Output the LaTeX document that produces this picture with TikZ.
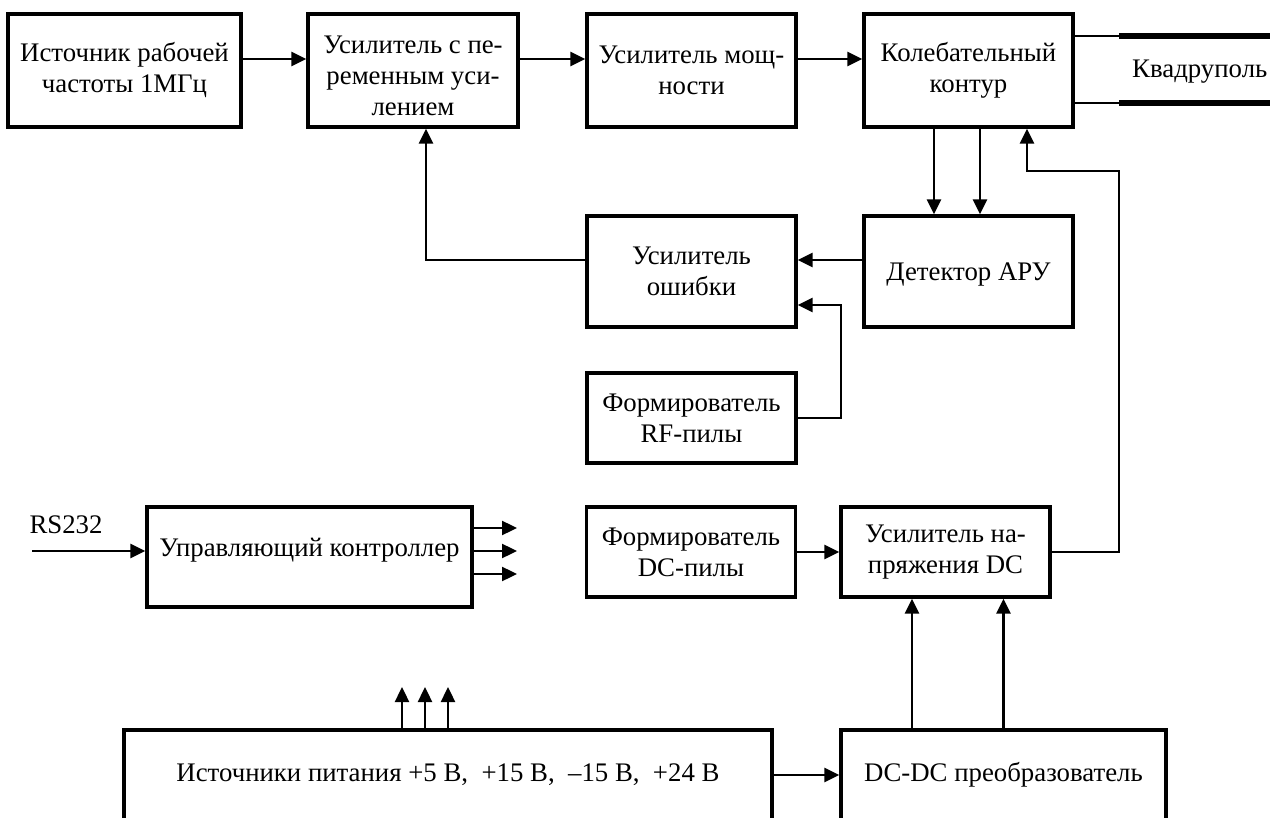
\documentclass[tikz,border=0pt]{standalone}
\usepackage{fontspec}
\setmainfont{Liberation Serif}
\usetikzlibrary{arrows.meta}
\begin{document}
\begin{tikzpicture}[x=1pt,y=-1pt,
  box/.style={draw,line width=3.3pt,rectangle,align=center,inner sep=0pt,font=\fontsize{26.8}{31}\selectfont},
  conn/.style={line width=2.4pt},
  arr/.style={conn,-{Triangle[length=15pt,width=14pt]}},
  lbl/.style={font=\fontsize{26.8}{31}\selectfont,inner sep=0pt,align=center}]
\useasboundingbox (0,0) rectangle (1270,818);
\clip (0,0) rectangle (1270,818);
% top row
\node[box,minimum width=233pt,minimum height=113pt] (b1) at (124.5,70.5) {Источник рабочей\\частоты 1МГц};
\node[box,minimum width=210pt,minimum height=113pt,
  label={[lbl,yshift=-5pt]center:Усилитель с пе-\\ременным уси-\\лением}] (b2) at (413,70.5) {};
\node[box,minimum width=209pt,minimum height=113pt] (b3) at (691.5,70.5) {Усилитель мощ-\\ности};
\node[box,minimum width=209pt,minimum height=113pt] (b4) at (968.5,70.5) {Колебательный\\контур};
\node[lbl,anchor=west] (quad) at (1132,72) {Квадруполь};
% middle
\node[box,minimum width=209pt,minimum height=111pt] (err) at (691.5,271.5) {Усилитель\\ошибки};
\node[box,minimum width=209pt,minimum height=111pt,
  label={[lbl,yshift=-3pt]center:Детектор АРУ}] (det) at (968.5,271.5) {};
\node[box,minimum width=209pt,minimum height=90pt] (rf) at (691.5,418) {Формирователь\\RF-пилы};
\node[box,minimum width=209pt,minimum height=90pt] (dcs) at (691,552) {Формирователь\\DC-пилы};
\node[box,minimum width=209pt,minimum height=90pt] (udc) at (945.5,552) {Усилитель на-\\пряжения DC};
\node[box,minimum width=325pt,minimum height=100pt,
  label={[lbl,yshift=7pt]center:Управляющий контроллер}] (ctl) at (309.5,557) {};
\node[lbl] (rs) at (66,525) {RS232};
% bottom
\node[box,minimum width=648pt,minimum height=90pt] (pw) at (448,775) {Источники питания +5 В,\ \ +15 В,\ \ –15 В,\ \ +24 В};
\node[box,minimum width=325pt,minimum height=90pt] (dcdc) at (1003.5,775) {DC-DC преобразователь};
% coordinates
\coordinate (q1) at (1119,36);
\coordinate (q1e) at (1285,36);
\coordinate (q2) at (1119,103);
\coordinate (q2e) at (1285,103);
\coordinate (fb) at (1119,171);
\coordinate (rfc) at (841,305);
\coordinate (pu1) at (402,687);
\coordinate (pu2) at (425,687);
\coordinate (pu3) at (448,687);
\coordinate (co1) at (517,528);
\coordinate (co2) at (517,551);
\coordinate (co3) at (517,574);
\coordinate (rsin) at (32,551);
% connectors
\draw[arr] ([yshift=11.5pt]b1.east) -- ([yshift=11.5pt]b2.west);
\draw[arr] ([yshift=11.5pt]b2.east) -- ([yshift=11.5pt]b3.west);
\draw[arr] ([yshift=11.5pt]b3.east) -- ([yshift=11.5pt]b4.west);
\draw[conn] (b4.east |- q1) -- (q1);
\draw[conn] (b4.east |- q2) -- (q2);
\draw[line width=5.5pt] (q1) -- (q1e);
\draw[line width=5.5pt] (q2) -- (q2e);
\draw[arr] ([xshift=-34.5pt]b4.south) -- ([xshift=-34.5pt]det.north);
\draw[arr] ([xshift=11.5pt]b4.south) -- ([xshift=11.5pt]det.north);
\draw[arr] (udc.east) -| (fb) -| ([xshift=58.5pt]b4.south);
\draw[arr] ([yshift=11.5pt]det.west) -- ([yshift=11.5pt]err.east);
\draw[arr] (rf.east) -| (rfc) -- ([yshift=-33.5pt]err.east);
\draw[arr] ([yshift=11.5pt]err.west) -| ([xshift=13pt]b2.south);
\draw[arr] (dcs.east) -- (udc.west);
\draw[arr] ([xshift=-91.5pt]dcdc.north) -- ([xshift=-33.5pt]udc.south);
\draw[arr] (dcdc.north) -- ([xshift=58pt]udc.south);
\draw[arr] (pw.east) -- (dcdc.west);
\draw[arr] (pw.north -| pu1) -- (pu1);
\draw[arr] (pw.north -| pu2) -- (pu2);
\draw[arr] (pw.north -| pu3) -- (pu3);
\draw[arr] (ctl.east |- co1) -- (co1);
\draw[arr] (ctl.east |- co2) -- (co2);
\draw[arr] (ctl.east |- co3) -- (co3);
\draw[arr] (rsin) -- (ctl.west |- rsin);
\end{tikzpicture}
\end{document}
